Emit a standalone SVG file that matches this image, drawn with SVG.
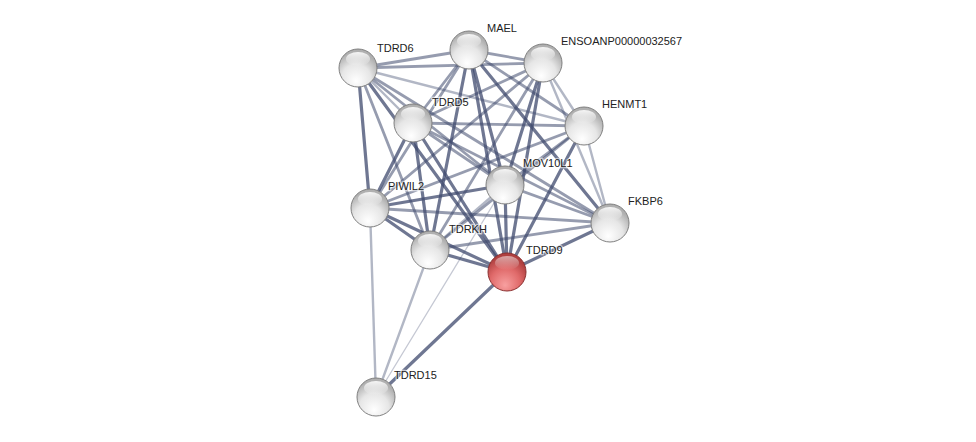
<svg xmlns="http://www.w3.org/2000/svg" width="976" height="442" viewBox="0 0 976 442">
<defs>
<radialGradient id="gw" cx="0.45" cy="0.75" r="0.65" fx="0.45" fy="0.85">
<stop offset="0" stop-color="#ffffff"/>
<stop offset="0.6" stop-color="#e6e6e6"/>
<stop offset="1" stop-color="#b0b0b0"/>
</radialGradient>
<radialGradient id="gr" cx="0.45" cy="0.75" r="0.65" fx="0.45" fy="0.85">
<stop offset="0" stop-color="#f8a0a0"/>
<stop offset="0.6" stop-color="#e06a6a"/>
<stop offset="1" stop-color="#b04040"/>
</radialGradient>
<linearGradient id="hl" x1="0" y1="0" x2="0" y2="1">
<stop offset="0" stop-color="#ffffff" stop-opacity="0.9"/>
<stop offset="1" stop-color="#ffffff" stop-opacity="0"/>
</linearGradient>
</defs>
<style>
.e{stroke:#3f4a6e;stroke-linecap:round;fill:none}
.d{stroke-width:3.2;stroke-opacity:0.75}
.m{stroke-width:2.8;stroke-opacity:0.55}
.l{stroke-width:2.4;stroke-opacity:0.4}
.t{stroke-width:1.3;stroke-opacity:0.3}
.n{stroke:#808080;stroke-width:1}
.lab{font-family:"Liberation Sans",Arial,sans-serif;font-size:11px;fill:#222;paint-order:stroke;stroke:#ffffff;stroke-opacity:0.6;stroke-width:2.5px}
</style>
<rect width="976" height="442" fill="#ffffff"/>
<g id="connectors">
<line class="e m" x1="358" y1="68" x2="469" y2="50"/>
<line class="e m" x1="358" y1="68" x2="543" y2="63"/>
<line class="e l" x1="358" y1="68" x2="584" y2="126"/>
<line class="e l" x1="358" y1="68" x2="413" y2="123"/>
<line class="e m" x1="358" y1="68" x2="505" y2="185"/>
<line class="e d" x1="358" y1="68" x2="370" y2="208"/>
<line class="e m" x1="358" y1="68" x2="610" y2="223"/>
<line class="e m" x1="358" y1="68" x2="430" y2="250"/>
<line class="e d" x1="358" y1="68" x2="507" y2="272"/>
<line class="e m" x1="469" y1="50" x2="543" y2="63"/>
<line class="e m" x1="469" y1="50" x2="584" y2="126"/>
<line class="e m" x1="469" y1="50" x2="413" y2="123"/>
<line class="e d" x1="469" y1="50" x2="505" y2="185"/>
<line class="e m" x1="469" y1="50" x2="370" y2="208"/>
<line class="e d" x1="469" y1="50" x2="610" y2="223"/>
<line class="e d" x1="469" y1="50" x2="430" y2="250"/>
<line class="e d" x1="469" y1="50" x2="507" y2="272"/>
<line class="e l" x1="543" y1="63" x2="584" y2="126"/>
<line class="e m" x1="543" y1="63" x2="413" y2="123"/>
<line class="e d" x1="543" y1="63" x2="505" y2="185"/>
<line class="e m" x1="543" y1="63" x2="370" y2="208"/>
<line class="e l" x1="543" y1="63" x2="610" y2="223"/>
<line class="e m" x1="543" y1="63" x2="430" y2="250"/>
<line class="e d" x1="543" y1="63" x2="507" y2="272"/>
<line class="e m" x1="584" y1="126" x2="413" y2="123"/>
<line class="e m" x1="584" y1="126" x2="505" y2="185"/>
<line class="e m" x1="584" y1="126" x2="370" y2="208"/>
<line class="e l" x1="584" y1="126" x2="610" y2="223"/>
<line class="e m" x1="584" y1="126" x2="430" y2="250"/>
<line class="e d" x1="584" y1="126" x2="507" y2="272"/>
<line class="e m" x1="413" y1="123" x2="505" y2="185"/>
<line class="e d" x1="413" y1="123" x2="370" y2="208"/>
<line class="e m" x1="413" y1="123" x2="610" y2="223"/>
<line class="e d" x1="413" y1="123" x2="430" y2="250"/>
<line class="e d" x1="413" y1="123" x2="507" y2="272"/>
<line class="e d" x1="505" y1="185" x2="370" y2="208"/>
<line class="e m" x1="505" y1="185" x2="610" y2="223"/>
<line class="e l" x1="505" y1="185" x2="430" y2="250"/>
<line class="e d" x1="505" y1="185" x2="507" y2="272"/>
<line class="e m" x1="370" y1="208" x2="610" y2="223"/>
<line class="e d" x1="370" y1="208" x2="430" y2="250"/>
<line class="e d" x1="370" y1="208" x2="507" y2="272"/>
<line class="e m" x1="610" y1="223" x2="430" y2="250"/>
<line class="e d" x1="610" y1="223" x2="507" y2="272"/>
<line class="e d" x1="430" y1="250" x2="507" y2="272"/>
<line class="e l" x1="376" y1="397" x2="370" y2="208"/>
<line class="e l" x1="376" y1="397" x2="430" y2="250"/>
<line class="e t" x1="376" y1="397" x2="505" y2="185"/>
<line class="e d" x1="376" y1="397" x2="507" y2="272" stroke-opacity="0.65"/>
</g>
<g id="TDRD6"><circle class="n" cx="358" cy="68" r="19" fill="url(#gw)"/><ellipse cx="358" cy="59" rx="12" ry="7" fill="url(#hl)"/><text class="lab" x="377" y="52">TDRD6</text></g>
<g id="MAEL"><circle class="n" cx="469" cy="50" r="19" fill="url(#gw)"/><ellipse cx="469" cy="41" rx="12" ry="7" fill="url(#hl)"/><text class="lab" x="487" y="32">MAEL</text></g>
<g id="ENSOANP00000032567"><circle class="n" cx="543" cy="63" r="19" fill="url(#gw)"/><ellipse cx="543" cy="54" rx="12" ry="7" fill="url(#hl)"/><text class="lab" x="561" y="45">ENSOANP00000032567</text></g>
<g id="HENMT1"><circle class="n" cx="584" cy="126" r="19" fill="url(#gw)"/><ellipse cx="584" cy="117" rx="12" ry="7" fill="url(#hl)"/><text class="lab" x="602" y="108">HENMT1</text></g>
<g id="TDRD5"><circle class="n" cx="413" cy="123" r="19" fill="url(#gw)"/><ellipse cx="413" cy="114" rx="12" ry="7" fill="url(#hl)"/><text class="lab" x="432" y="106">TDRD5</text></g>
<g id="MOV10L1"><circle class="n" cx="505" cy="185" r="19" fill="url(#gw)"/><ellipse cx="505" cy="176" rx="12" ry="7" fill="url(#hl)"/><text class="lab" x="523" y="167">MOV10L1</text></g>
<g id="PIWIL2"><circle class="n" cx="370" cy="208" r="19" fill="url(#gw)"/><ellipse cx="370" cy="199" rx="12" ry="7" fill="url(#hl)"/><text class="lab" x="388" y="190">PIWIL2</text></g>
<g id="FKBP6"><circle class="n" cx="610" cy="223" r="19" fill="url(#gw)"/><ellipse cx="610" cy="214" rx="12" ry="7" fill="url(#hl)"/><text class="lab" x="628" y="205">FKBP6</text></g>
<g id="TDRKH"><circle class="n" cx="430" cy="250" r="19" fill="url(#gw)"/><ellipse cx="430" cy="241" rx="12" ry="7" fill="url(#hl)"/><text class="lab" x="449" y="233">TDRKH</text></g>
<g id="TDRD9"><circle cx="507" cy="272" r="19" fill="url(#gr)" stroke="#8a3030" stroke-width="1"/><ellipse cx="507" cy="263" rx="12" ry="7" fill="url(#hl)" opacity="0.6"/><text class="lab" x="526" y="254">TDRD9</text></g>
<g id="TDRD15"><circle class="n" cx="376" cy="397" r="19" fill="url(#gw)"/><ellipse cx="376" cy="388" rx="12" ry="7" fill="url(#hl)"/><text class="lab" x="394" y="379">TDRD15</text></g>
</svg>
